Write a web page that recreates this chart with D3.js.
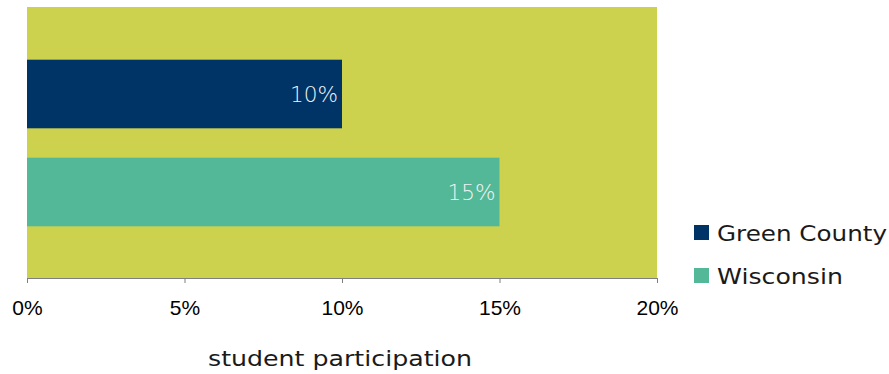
<!DOCTYPE html>
<html>
<head>
<meta charset="utf-8">
<script src="https://cdn.jsdelivr.net/npm/d3@7"></script>
<style>
  body { margin: 0; background: #fff; }
</style>
</head>
<body>
<div id="chart"></div>
<script>
var w = 889;
var h = 374;

// data
var groups = ["Green County", "Wisconsin"];
var values = [0.10, 0.15];
var ticks = [0, 0.05, 0.10, 0.15, 0.20];
var colors = ["#003366", "#52B897"];

var plot = {left: 27, right: 657, top: 7, bottom: 278};

var xScale = d3.scaleLinear()
    .domain([0, 0.20])
    .range([plot.left, plot.right]);

var yScale = d3.scaleBand()
    .domain(groups)
    .range([45, 241])
    .paddingInner(0.3)
    .paddingOuter(0.15);

var svg = d3.select("#chart")
    .append("svg")
    .attr("width", w)
    .attr("height", h);

// plot background
svg.append("rect")
    .attr("x", plot.left)
    .attr("y", plot.top)
    .attr("width", plot.right - plot.left)
    .attr("height", plot.bottom - plot.top)
    .attr("fill", "#CDD24E");

// bars
svg.selectAll("rect.bar")
    .data(values)
    .enter()
    .append("rect")
    .attr("class", "bar")
    .attr("x", xScale(0))
    .attr("y", function(d, i) { return yScale(groups[i]); })
    .attr("width", function(d) { return xScale(d) - xScale(0); })
    .attr("height", yScale.bandwidth())
    .attr("fill", function(d, i) { return colors[i]; });

// value labels
svg.selectAll("text.val")
    .data(values)
    .enter()
    .append("text")
    .attr("class", "val")
    .text(function(d) { return Math.round(d * 100) + "%"; })
    .attr("text-anchor", "end")
    .attr("x", function(d) { return xScale(d) - 4; })
    .attr("y", function(d, i) { return yScale(groups[i]) + yScale.bandwidth() / 2 + 7.5; })
    .attr("textLength", 48)
    .attr("lengthAdjust", "spacingAndGlyphs")
    .attr("font-family", "'DejaVu Sans', sans-serif")
    .attr("font-weight", 300)
    .attr("font-size", "22px")
    .attr("fill", "#f2f2f2");

// x axis
var xAxis = d3.axisBottom(xScale)
    .tickValues(ticks)
    .tickFormat(d3.format(".0%"))
    .tickSize(5)
    .tickSizeOuter(0);

var gx = svg.append("g")
    .attr("transform", "translate(0," + plot.bottom + ")")
    .call(xAxis);
gx.select(".domain").attr("stroke", "#7f7f7f");
gx.selectAll(".tick line").attr("stroke", "#7f7f7f");
gx.selectAll(".tick text")
    .attr("y", 37)
    .attr("dy", null)
    .attr("font-family", "'Liberation Sans', Arial, sans-serif")
    .attr("font-size", "21px")
    .attr("fill", "#000");

// axis title
svg.append("text")
    .text("student participation")
    .attr("x", 340)
    .attr("y", 366)
    .attr("text-anchor", "middle")
    .attr("textLength", 264)
    .attr("lengthAdjust", "spacingAndGlyphs")
    .attr("font-family", "'DejaVu Sans', sans-serif")
    .attr("font-size", "21px")
    .attr("fill", "#1a1a1a");

// legend
var legendLen = [170, 126];
var legend = svg.selectAll("g.leg")
    .data(groups)
    .enter()
    .append("g")
    .attr("class", "leg")
    .attr("transform", function(d, i) { return "translate(694," + (225 + i * 43) + ")"; });

legend.append("rect")
    .attr("width", 15)
    .attr("height", 15)
    .attr("fill", function(d, i) { return colors[i]; });

legend.append("text")
    .text(function(d) { return d; })
    .attr("x", 23)
    .attr("y", 16)
    .attr("textLength", function(d, i) { return legendLen[i]; })
    .attr("lengthAdjust", "spacingAndGlyphs")
    .attr("font-family", "'DejaVu Sans', sans-serif")
    .attr("font-size", "22px")
    .attr("fill", "#1a1a1a");
</script>
</body>
</html>
